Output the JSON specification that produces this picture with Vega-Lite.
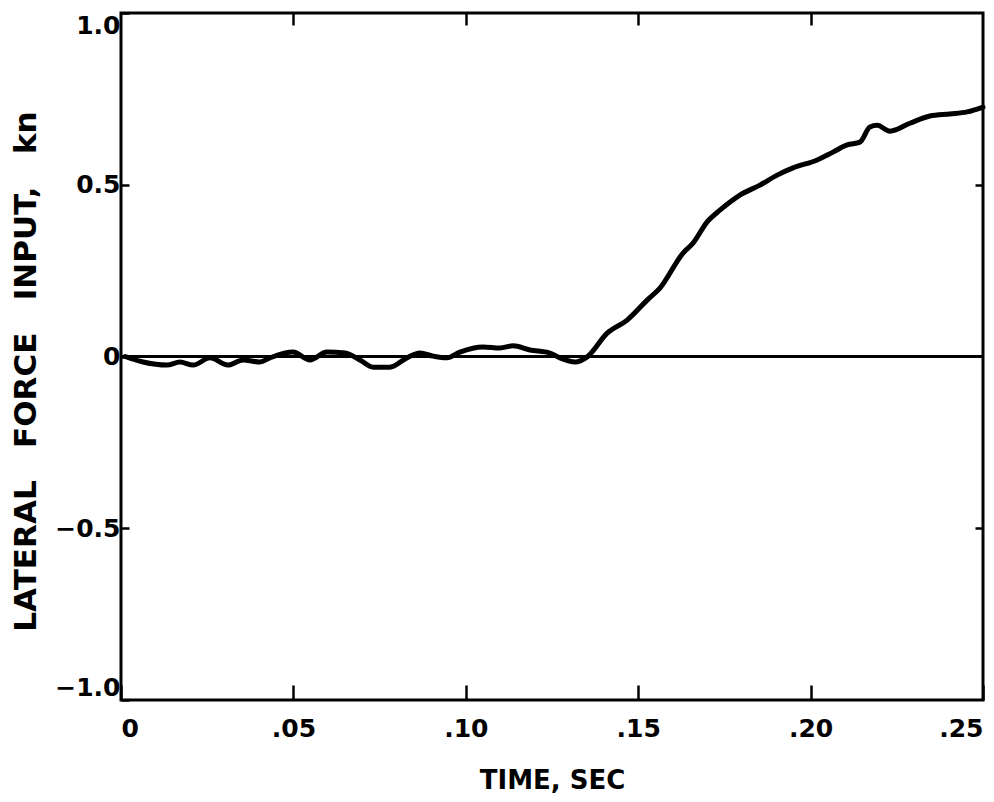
{
  "$schema": "https://vega.github.io/schema/vega-lite/v6.json",
  "width": 862,
  "height": 687,
  "autosize": "none",
  "padding": {"left": 121, "top": 13, "right": 11, "bottom": 102},
  "background": "white",
  "config": {
    "view": {"stroke": "black", "strokeWidth": 3},
    "font": "DejaVu Sans",
    "axis": {"domain": false, "grid": false, "tickColor": "black", "tickWidth": 2.5, "labelColor": "black", "titleColor": "black", "labelFont": "DejaVu Sans", "titleFont": "DejaVu Sans", "labelFontWeight": "bold", "titleFontWeight": "bold"}
  },
  "data": {"values": [
    {"t": 0.0012, "f": 0.0}, {"t": 0.0064, "f": -0.016}, {"t": 0.0133, "f": -0.025}, {"t": 0.0171, "f": -0.016},
    {"t": 0.0209, "f": -0.025}, {"t": 0.0258, "f": -0.004}, {"t": 0.031, "f": -0.025}, {"t": 0.0354, "f": -0.01},
    {"t": 0.0403, "f": -0.016}, {"t": 0.0432, "f": -0.004}, {"t": 0.0499, "f": 0.013}, {"t": 0.0548, "f": -0.01},
    {"t": 0.0597, "f": 0.013}, {"t": 0.065, "f": 0.01}, {"t": 0.0693, "f": -0.01}, {"t": 0.0731, "f": -0.031},
    {"t": 0.078, "f": -0.031}, {"t": 0.0829, "f": -0.004}, {"t": 0.0867, "f": 0.01}, {"t": 0.0905, "f": 0.001},
    {"t": 0.0945, "f": -0.004}, {"t": 0.0983, "f": 0.013}, {"t": 0.105, "f": 0.028}, {"t": 0.1099, "f": 0.025},
    {"t": 0.1137, "f": 0.031}, {"t": 0.1186, "f": 0.019}, {"t": 0.1244, "f": 0.01}, {"t": 0.1273, "f": -0.004},
    {"t": 0.1317, "f": -0.016}, {"t": 0.1352, "f": -0.001}, {"t": 0.141, "f": 0.068}, {"t": 0.1468, "f": 0.106},
    {"t": 0.1526, "f": 0.164}, {"t": 0.1563, "f": 0.199}, {"t": 0.163, "f": 0.301}, {"t": 0.1659, "f": 0.33},
    {"t": 0.17, "f": 0.392}, {"t": 0.1737, "f": 0.426}, {"t": 0.1795, "f": 0.47}, {"t": 0.1853, "f": 0.499},
    {"t": 0.1903, "f": 0.528}, {"t": 0.1949, "f": 0.549}, {"t": 0.2019, "f": 0.572}, {"t": 0.2065, "f": 0.595},
    {"t": 0.2106, "f": 0.616}, {"t": 0.2143, "f": 0.624}, {"t": 0.2172, "f": 0.668}, {"t": 0.2193, "f": 0.673},
    {"t": 0.223, "f": 0.656}, {"t": 0.2288, "f": 0.679}, {"t": 0.2346, "f": 0.7}, {"t": 0.2404, "f": 0.706},
    {"t": 0.2454, "f": 0.712}, {"t": 0.25, "f": 0.726}
  ]},
  "layer": [
    {
      "mark": {"type": "rule", "color": "black", "strokeWidth": 2},
      "encoding": {"y": {"datum": 0, "type": "quantitative", "scale": {"domain": [-1, 1]}, "axis": null}}
    },
    {
      "mark": {"type": "line", "color": "black", "strokeWidth": 5, "interpolate": "monotone", "strokeCap": "round", "strokeJoin": "round"},
      "encoding": {
        "x": {"field": "t", "type": "quantitative", "scale": {"domain": [0, 0.25], "nice": false},
          "axis": {"orient": "bottom", "values": [0, 0.05, 0.1, 0.15, 0.2, 0.25], "tickSize": -15, "labelExpr": "datum.value == 0 ? '0' : replace(format(datum.value, '.2f'), '0.', '.')", "labelFontSize": 25, "labelPadding": 31, "labelFlush": true, "title": "TIME, SEC", "titleFontSize": 26, "titlePadding": 26}},
        "y": {"field": "f", "type": "quantitative", "scale": {"domain": [-1, 1], "nice": false},
          "axis": {"orient": "left", "values": [-1, -0.5, 0, 0.5, 1], "tickSize": -8, "labelExpr": "datum.value == 0 ? '0' : format(datum.value, '.1f')", "labelFontSize": 25, "labelPadding": 9, "labelFlush": true, "title": "LATERAL\u00a0\u00a0\u00a0FORCE\u00a0\u00a0\u00a0INPUT,\u00a0\u00a0\u00a0kn", "titleFontSize": 31, "titlePadding": 12, "titleY": 358}}
      }
    },
    {
      "mark": {"type": "point", "opacity": 0},
      "encoding": {
        "x": {"field": "t", "type": "quantitative", "axis": {"orient": "top", "values": [0.05, 0.1, 0.15, 0.2], "tickSize": -12, "labels": false, "title": null}},
        "y": {"field": "f", "type": "quantitative", "axis": {"orient": "right", "values": [-0.5, 0.5], "tickSize": -8, "labels": false, "title": null}}
      }
    }
  ]
}
